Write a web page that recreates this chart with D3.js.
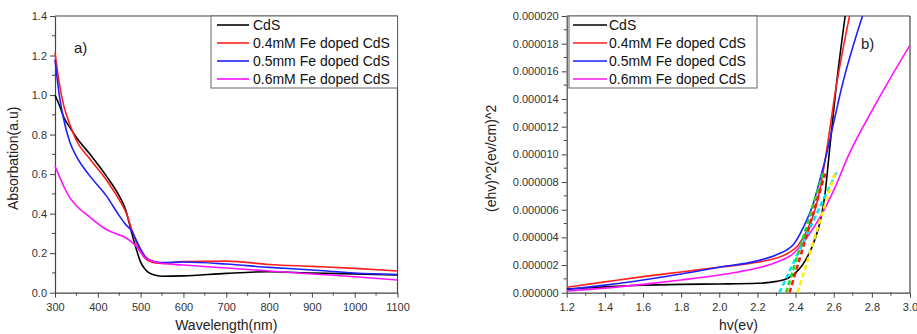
<!DOCTYPE html>
<html><head><meta charset="utf-8">
<script src="https://cdn.jsdelivr.net/npm/d3@7/dist/d3.min.js"></script>
<style>
body{margin:0;background:#fff;}
text{font-family:"Liberation Sans",Arial,sans-serif;}
</style></head>
<body><svg id="c" width="917" height="334"></svg>
<script>
// ---------- Panel a) data ----------
const wavelength = [300,310,320,335,350,380,420,450,465,480,490,500,510,520,535,550,600,700,800,900,1000,1100];
const absCdS  = [1.00,0.95,0.89,0.835,0.785,0.705,0.59,0.49,0.42,0.295,0.22,0.155,0.12,0.10,0.088,0.083,0.085,0.098,0.106,0.10,0.095,0.09];
const absFe04 = [1.215,1.06,0.95,0.85,0.77,0.68,0.57,0.47,0.41,0.315,0.255,0.205,0.175,0.16,0.15,0.148,0.158,0.16,0.143,0.133,0.123,0.11];
const absFe05 = [1.18,1.0,0.88,0.76,0.69,0.595,0.49,0.39,0.345,0.31,0.265,0.22,0.185,0.167,0.156,0.152,0.155,0.145,0.128,0.115,0.10,0.092];
const absFe06 = [0.64,0.59,0.54,0.48,0.44,0.385,0.32,0.292,0.278,0.255,0.235,0.205,0.178,0.165,0.155,0.149,0.14,0.125,0.11,0.095,0.081,0.064];
const legendA = ["CdS","0.4mM Fe doped CdS","0.5mm Fe doped CdS","0.6mM Fe doped CdS"];
const xTicksA = [300,400,500,600,700,800,900,1000,1100];
const yTicksA = [0,0.2,0.4,0.6,0.8,1.0,1.2,1.4];

// ---------- Panel b) data (values in units of 1e-6) ----------
const hvCdS  = [1.2,1.4,1.6,1.8,2.0,2.2,2.3,2.36,2.415,2.45,2.5,2.53,2.555,2.573,2.613,2.66];
const tcCdS  = [0.27,0.42,0.54,0.6,0.63,0.68,0.82,1.05,1.64,2.3,3.8,5.2,7.2,9.6,14.9,20];
const hvFe04 = [1.2,1.4,1.6,1.8,2.0,2.2,2.3,2.36,2.415,2.46,2.5,2.53,2.555,2.613,2.683];
const tcFe04 = [0.39,0.78,1.16,1.5,1.84,2.2,2.5,2.85,3.45,4.5,5.9,7.6,9.6,14.9,20];
const hvFe05 = [1.2,1.4,1.6,1.8,2.0,2.2,2.3,2.39,2.44,2.494,2.53,2.555,2.6,2.643,2.751];
const tcFe05 = [0.22,0.55,0.92,1.35,1.84,2.3,2.75,3.5,4.7,6.5,8.3,9.6,12.3,14.9,20];
const hvFe06 = [1.2,1.4,1.6,1.8,2.0,2.1,2.2,2.3,2.39,2.46,2.53,2.6,2.68,2.774,2.88,3.0];
const tcFe06 = [0.12,0.33,0.6,0.92,1.28,1.5,1.78,2.2,2.85,4.0,5.5,7.4,10.0,12.5,15.1,17.9];
const tangentColors = ["#00e5ff","#22dd22","#ff1a1a","#ffee00"];
const tangentHv0 = [2.315,2.35,2.368,2.41];
const tangentHv1 = [2.617,2.548,2.555,2.61];
const tangentTc1 = [8.8,8.8,8.6,8.8];
const legendB = ["CdS","0.4mM Fe doped CdS","0.5mM Fe doped CdS","0.6mm Fe doped CdS"];
const xTicksB = [1.2,1.4,1.6,1.8,2.0,2.2,2.4,2.6,2.8,3.0];
const yTicksB = [0,2,4,6,8,10,12,14,16,18,20];

const colors = ["#000000","#ff1f1f","#1f1fff","#ff10ff"];

const svg = d3.select("#c");
const plotTop = 16, plotBottom = 292.7;

function frame(g, x, y, xMajor, xMinor, yMajor, yMinor, xFmt, yFmt, xLabel, yLabel, yLabelX) {
  const [x0,x1] = x.range();
  const ax = d3.axisBottom(x).tickValues(xMajor).tickFormat(xFmt).tickSize(5).tickSizeOuter(0);
  const gx = g.append("g").attr("transform",`translate(0,${plotBottom})`).call(ax);
  gx.append("g").selectAll("line").data(xMinor).join("line")
    .attr("x1",d=>x(d)).attr("x2",d=>x(d)).attr("y1",0).attr("y2",3).attr("stroke","#444");
  const ay = d3.axisLeft(y).tickValues(yMajor).tickFormat(yFmt).tickSize(5).tickSizeOuter(0);
  const gy = g.append("g").attr("transform",`translate(${x0},0)`).call(ay);
  gy.append("g").selectAll("line").data(yMinor).join("line")
    .attr("y1",d=>y(d)).attr("y2",d=>y(d)).attr("x1",0).attr("x2",-3).attr("stroke","#444");
  [gx,gy].forEach(a=>{
    a.select(".domain").attr("stroke","#444").attr("stroke-width",1.2);
    a.selectAll(".tick line").attr("stroke","#444");
    a.selectAll(".tick text").attr("fill","#333").style("font-size","11px")
      .style("font-family","'Liberation Sans',Arial,sans-serif");
  });
  gx.selectAll(".tick text").attr("dy","0.9em");
  g.append("line").attr("x1",x0).attr("x2",x1).attr("y1",plotTop).attr("y2",plotTop).attr("stroke","#444").attr("stroke-width",1.2);
  g.append("line").attr("x1",x1).attr("x2",x1).attr("y1",plotTop).attr("y2",plotBottom).attr("stroke","#444").attr("stroke-width",1.2);
  g.append("text").attr("x",(x0+x1)/2).attr("y",330).attr("text-anchor","middle")
    .style("font-size","14px").attr("fill","#222").text(xLabel);
  g.append("text").attr("transform",`translate(${yLabelX},${(plotTop+plotBottom)/2+4}) rotate(-90)`)
    .attr("text-anchor","middle").style("font-size","14px").attr("fill","#222").text(yLabel);
}

function legend(g, bx0, bx1, lx0, lx1, tx, labels) {
  g.append("rect").attr("x",bx0).attr("y",plotTop).attr("width",bx1-bx0).attr("height",72)
    .attr("fill","#fff").attr("stroke","#666").attr("stroke-width",1);
  const rows = [25,43,61,79];
  labels.forEach((lab,i)=>{
    g.append("line").attr("x1",lx0).attr("x2",lx1).attr("y1",rows[i]).attr("y2",rows[i])
      .attr("stroke",colors[i]).attr("stroke-width",1.6);
    g.append("text").attr("x",tx).attr("y",rows[i]+5).style("font-size","14px").attr("fill","#111").text(lab);
  });
}

// ---------- Panel a ----------
{
  const x = d3.scaleLinear().domain([300,1100]).range([55,397.5]);
  const y = d3.scaleLinear().domain([0,1.4]).range([plotBottom,plotTop]);
  const g = svg.append("g");
  frame(g,x,y,xTicksA,d3.range(350,1100,100),yTicksA,d3.range(0.1,1.4,0.2),
        d3.format("d"),d3.format(".1f"),"Wavelength(nm)","Absorbation(a.u)",18);
  const line = d3.line().x(d=>x(d[0])).y(d=>y(d[1])).curve(d3.curveMonotoneX);
  [absCdS,absFe04,absFe05,absFe06].forEach((s,i)=>{
    g.append("path").datum(wavelength.map((w,j)=>[w,s[j]])).attr("d",line)
      .attr("fill","none").attr("stroke",colors[i]).attr("stroke-width",1.6);
  });
  g.append("text").attr("x",74).attr("y",53).style("font-size","15px").attr("fill","#222").text("a)");
  legend(g,211,397.5,217,249,253,legendA);
}

// ---------- Panel b ----------
{
  const x = d3.scaleLinear().domain([1.2,3.0]).range([566.7,910]);
  const y = d3.scaleLinear().domain([0,20]).range([plotBottom,plotTop]);
  const g = svg.append("g");
  svg.append("defs").append("clipPath").attr("id","clipB").append("rect")
    .attr("x",566.7).attr("y",plotTop).attr("width",910-566.7).attr("height",plotBottom-plotTop);
  frame(g,x,y,xTicksB,d3.range(1.3,3.0,0.2),yTicksB,d3.range(1,20,2),
        d3.format(".1f"),d=>d3.format(".6f")(d*1e-6),"hv(ev)","(ehv)^2(ev/cm)^2",496);
  const pg = g.append("g").attr("clip-path","url(#clipB)");
  const line = d3.line().x(d=>x(d[0])).y(d=>y(d[1])).curve(d3.curveMonotoneX);
  const hvs = [hvCdS,hvFe04,hvFe05,hvFe06], tcs = [tcCdS,tcFe04,tcFe05,tcFe06];
  hvs.forEach((h,i)=>{
    pg.append("path").datum(h.map((v,j)=>[v,tcs[i][j]])).attr("d",line)
      .attr("fill","none").attr("stroke",colors[i]).attr("stroke-width",1.6);
  });
  tangentColors.forEach((c,i)=>{
    pg.append("line").attr("x1",x(tangentHv0[i])).attr("y1",y(0))
      .attr("x2",x(tangentHv1[i])).attr("y2",y(tangentTc1[i]))
      .attr("stroke",c).attr("stroke-width",2.6).attr("stroke-dasharray","5,3");
  });
  g.append("text").attr("x",861).attr("y",49).style("font-size","15px").attr("fill","#222").text("b)");
  legend(g,569,757,573,607,609,legendB);
}
</script></body></html>
